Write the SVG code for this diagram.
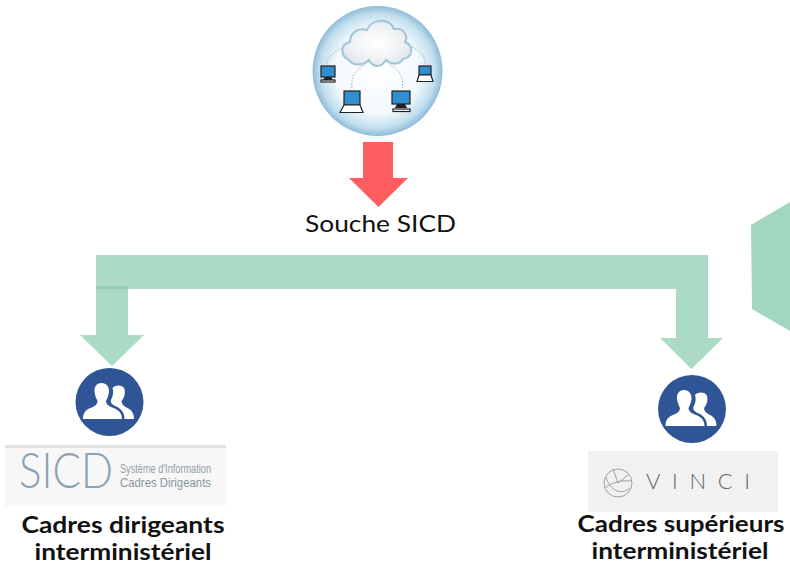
<svg xmlns="http://www.w3.org/2000/svg" width="790" height="564" viewBox="0 0 790 564">
<style>
.lbl{font-family:Lato,"Noto Sans","Liberation Sans",sans-serif;fill:#111;text-anchor:middle}
.b{font-size:22px;font-weight:700}
.green{fill:#abdac5}
.hex{fill:#a1d7bf}
.disc{fill:#2f5597}
.head{fill:#fff}
.dot{fill:none;stroke:#9db4bd;stroke-width:1;stroke-dasharray:1.500 1.500}
.scr{fill:#2f8fd0;stroke:#222;stroke-width:1.200}
.dev{fill:#fff;stroke:#222;stroke-width:1.200}
.base{fill:#222}
.thin{font-family:Lato,"Liberation Sans",sans-serif;font-weight:300}
</style>
<defs>
<radialGradient id="sky" cx="50%" cy="50%" r="50%">
<stop offset="0" stop-color="#fff"/><stop offset=".65" stop-color="#f3f9fc"/><stop offset=".88" stop-color="#c2dfef"/><stop offset="1" stop-color="#8fbbd8"/>
</radialGradient>
<radialGradient id="cl" cx="50%" cy="50%" r="55%">
<stop offset="0" stop-color="#fff"/><stop offset=".7" stop-color="#eef1f3"/><stop offset="1" stop-color="#dde5ea"/>
</radialGradient>
<g id="people">
<path class="head" d="M-8 -19C-13 -19-15.500 -15-15 -10-14.500 -6-13 -3-12 -1-12 2-14 4-19 6-24 8-26.500 11-26.500 17H12.500C12.500 11 9 8 4 6-1 4-3.500 2-3.500 -1-2.500 -3-1 -6-.5 -10 0 -15-3 -19-8 -19Z"/>
<path class="head" d="M3 -14C5 -17 12 -17.500 14.500 -14 16.500 -10 15 -4 12 -1 12 2 14 4 18 6 22 8 24.500 11 24.500 17H15C15 11 12 7 7 4.500 3 3 .5 1 1.500 -2 3 -5 4.500 -9 3 -14Z"/>
</g>
</defs>

<g id="connectors">
<path id="red-arrow" fill="#ff5d5f" d="M363 142H393V178H408L378.500 207 349 178H363Z"/>
<rect class="green" x="96" y="255" width="612" height="34"/>
<path class="green" d="M96 286H128V335H144L112 366 80 335H96Z"/>
<rect x="96" y="286" width="32" height="3" fill="#93cfb4"/>
<path class="green" d="M676 289H708V338H723L691.500 369 660 338H676Z"/>
</g>

<g id="node-cloud">
<circle cx="377.500" cy="71" r="65" fill="url(#sky)"/>
<path class="dot" d="M342 48C332 52 326 60 327 65M412 47C422 52 426 58 425 65M365 65C352 70 351 82 352 90M390 65C402 70 404 82 402 90"/>
<path d="M349 60C340 56 340 44 350 42 350 34 357 27 367 30 371 19 389 17 394 29 403 27 409 36 405 42 415 46 412 58 403 59 399 66 390 64 386 60 381 68 373 68 369 60 363 66 353 66 349 60Z" fill="url(#cl)" stroke="#a3c4d8" stroke-width="2"/>
<g id="pc1"><rect class="scr" x="321" y="66" width="14" height="11"/><path class="base" d="M325 77H331L333 80H323Z"/><rect class="dev" x="321" y="80" width="14" height="2"/></g>
<g id="pc2"><rect class="scr" x="419" y="66" width="12" height="9"/><path class="dev" d="M419 75H431L433 81.500H417Z"/></g>
<g id="pc3"><rect class="scr" x="344" y="91" width="16" height="14"/><path class="dev" d="M344 105H360L363 112.500H340Z"/></g>
<g id="pc4"><rect class="scr" x="392" y="91" width="18" height="13"/><path class="base" d="M397 104H405L407 108H395Z"/><rect class="dev" x="393" y="109" width="17" height="2.500"/></g>
</g>

<g id="node-souche">
<text class="lbl" x="380.500" y="232" font-size="24" textLength="151" lengthAdjust="spacingAndGlyphs">Souche SICD</text>
</g>

<g id="node-hexagon">
<path class="hex" d="M751 225L790 202V331L752 309Z"/>
</g>

<g id="node-sicd">
<circle class="disc" cx="109.500" cy="402" r="34"/>
<use href="#people" x="109.500" y="402"/>
<rect x="5" y="445" width="221" height="61" fill="#f7f7f7"/>
<rect x="5" y="445" width="221" height="3" fill="#e1e1e1"/>
<text class="thin" x="19" y="488" font-size="50" fill="#8ba3b2" textLength="94" lengthAdjust="spacingAndGlyphs">SICD</text>
<text x="120" y="472.500" font-family="'Liberation Sans',sans-serif" font-size="13" fill="#8f9fa9" textLength="91" lengthAdjust="spacingAndGlyphs">Système d'Information</text>
<text x="120" y="487" font-family="'Liberation Sans',sans-serif" font-size="13.500" fill="#8496a1" textLength="91" lengthAdjust="spacingAndGlyphs">Cadres Dirigeants</text>
<text class="lbl b" x="123" y="533" textLength="203" lengthAdjust="spacingAndGlyphs">Cadres dirigeants</text>
<text class="lbl b" x="123" y="560" textLength="177" lengthAdjust="spacingAndGlyphs">interministériel</text>
</g>

<g id="node-vinci">
<circle class="disc" cx="692" cy="409" r="34"/>
<use href="#people" x="692" y="409"/>
<rect x="588" y="451" width="190" height="61" fill="#f1f1f1"/>
<g fill="none" stroke="#a0a0a0" stroke-width="1">
<circle cx="618" cy="483" r="14"/><path d="M606 477C610 490 620 496 630 488M618 483L613 469M618 483L628 475M605 488C612 482 622 480 631 481"/>
</g>
<text class="thin" x="646" y="489" font-size="22" fill="#666" textLength="104" lengthAdjust="spacing">VINCI</text>
<text class="lbl b" x="681" y="532" textLength="207" lengthAdjust="spacingAndGlyphs">Cadres supérieurs</text>
<text class="lbl b" x="680" y="559" textLength="177" lengthAdjust="spacingAndGlyphs">interministériel</text>
</g>
</svg>
